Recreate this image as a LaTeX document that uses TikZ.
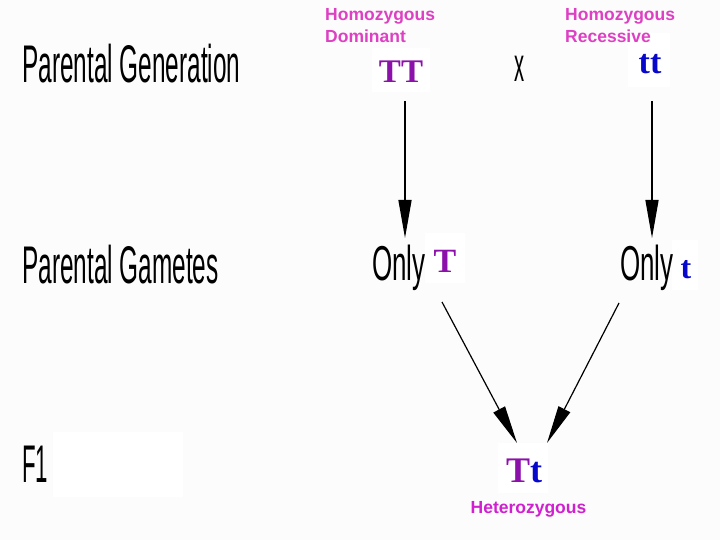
\documentclass[tikz,border=0pt]{standalone}
\usepackage{fontspec}
\setmainfont{Liberation Serif}
\setsansfont{Liberation Sans}
\usetikzlibrary{arrows.meta}
\definecolor{bgc}{RGB}{252,252,252}
\definecolor{pinkm}{RGB}{222,64,196}
\definecolor{hetm}{RGB}{208,32,208}
\definecolor{purp}{RGB}{140,16,170}
\definecolor{blu}{RGB}{8,8,204}
\begin{document}
\begin{tikzpicture}[x=1pt,y=-1pt,
  cond/.style={inner sep=0pt, anchor=base west, font=\sffamily\fontsize{53}{53}\selectfont},
  condsm/.style={inner sep=0pt, anchor=base west, font=\sffamily\fontsize{49}{49}\selectfont},
  lab/.style={inner sep=0pt, anchor=base west, text=pinkm, font=\sffamily\bfseries\fontsize{17.5}{20}\selectfont},
  allele/.style={inner sep=0pt, anchor=base, font=\rmfamily\bfseries\fontsize{33}{33}\selectfont},
  wbox/.style={fill=white, draw=none},
  arr/.style={line width=1.4pt, -{Triangle[length=38pt,width=13pt]}}]

\fill[bgc] (0,0) rectangle (720,540);
\useasboundingbox (0,0) rectangle (720,540);

% white boxes
\fill[wbox] (372,48) rectangle (430,92);
\fill[wbox] (628,33) rectangle (670,87);
\fill[wbox] (425,233) rectangle (465,283);
\fill[wbox] (672,240) rectangle (698,290);
\fill[wbox] (498,443) rectangle (548,493);
\fill[wbox] (53,432) rectangle (183,497);

% row labels
\node[cond] (pgen) at (22,83) {\scalebox{0.46}[1]{Parental Generation}};
\node[cond] (pgam) at (22,283) {\scalebox{0.46}[1]{Parental Gametes}};
\node[cond] (fone) at (22,482) {\scalebox{0.42}[1]{F1}};

% top labels
\node[lab] (hd1) at (325,21) {Homozygous};
\node[lab] (hd2) at (325,43) {Dominant};
\node[lab] (hr1) at (565,21) {Homozygous};
\node[lab] (hr2) at (565,43) {Recessive};

% parents
\node[allele, text=purp] (TT) at (401,83) {TT};
\node[condsm, font=\sffamily\fontsize{48}{48}\selectfont] (cross) at (514,82) {\scalebox{0.42}[1]{x}};
\node[allele, text=blu, font=\rmfamily\bfseries\fontsize{34}{34}\selectfont] (tt) at (650,74) {tt};

% gametes
\node[condsm] (only1) at (372,280) {\scalebox{0.53}[1]{Only}};
\node[allele, text=purp, font=\rmfamily\bfseries\fontsize{34}{34}\selectfont] (gT) at (445,272) {T};
\node[condsm] (only2) at (620,280) {\scalebox{0.53}[1]{Only}};
\node[allele, text=blu, font=\rmfamily\bfseries\fontsize{32}{32}\selectfont] (gt) at (686,278) {t};

% offspring
\node[allele, font=\rmfamily\bfseries\fontsize{36}{36}\selectfont] (Tt) at (524,482) {{\color{purp}T}{\color{blu}t}};
\node[inner sep=0pt, anchor=base, text=hetm, font=\sffamily\bfseries\fontsize{17.5}{20}\selectfont] (het) at (528.5,513) {Heterozygous};

% connectors
\coordinate (a1s) at (405,101);
\coordinate (a1e) at (405,238);
\coordinate (a2s) at (652,101);
\coordinate (a2e) at (652,238);
\coordinate (a3s) at (442,302);
\coordinate (a3e) at (517,443);
\coordinate (a4s) at (619,303);
\coordinate (a4e) at (547,443);
\draw[arr] (a1s) -- (a1e);
\draw[arr] (a2s) -- (a2e);
\draw[arr, line width=1.2pt] (a3s) -- (a3e);
\draw[arr, line width=1.2pt] (a4s) -- (a4e);
\end{tikzpicture}
\end{document}
